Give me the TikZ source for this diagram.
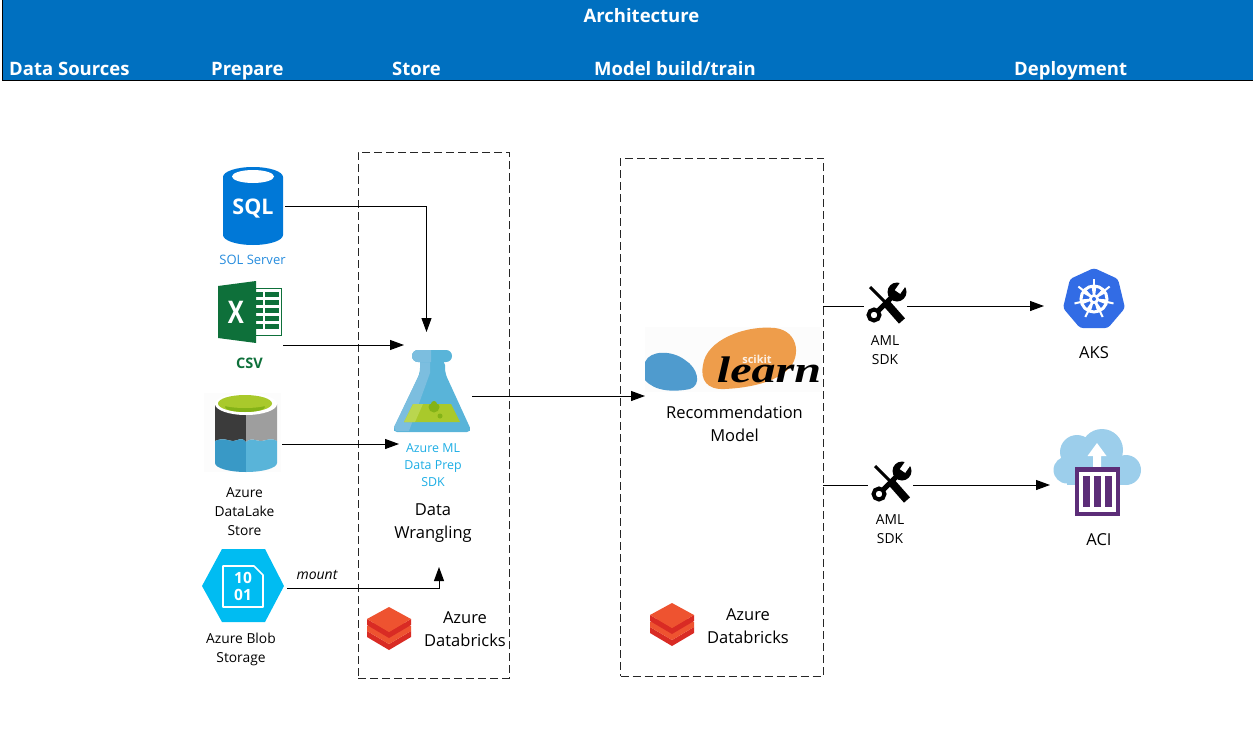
\documentclass[tikz,border=0pt]{standalone}
\usepackage{fontspec}
\setmainfont{Open Sans}
\newfontfamily\learnfont{Liberation Serif}
\usetikzlibrary{arrows.meta,calc}
\definecolor{banner}{HTML}{0070C0}
\definecolor{sqlblue}{HTML}{0078D7}
\definecolor{xlgreen}{HTML}{0E703A}
\definecolor{sdkblue}{HTML}{1CADE4}
\definecolor{blobcyan}{HTML}{00BCF2}
\definecolor{flaskA}{HTML}{59B4D9}
\definecolor{flaskB}{HTML}{7CBEDF}
\definecolor{lakeA}{HTML}{3999C6}
\definecolor{liqA}{HTML}{A9C92B}
\definecolor{liqB}{HTML}{BAD64F}
\definecolor{liqC}{HTML}{84B317}
\definecolor{brickA}{HTML}{EE5330}
\definecolor{brickB}{HTML}{D92B24}
\definecolor{skorange}{HTML}{EE9D4B}
\definecolor{skblue}{HTML}{4F9BCE}
\definecolor{k8s}{HTML}{326CE5}
\definecolor{cloud}{HTML}{9CCEEB}
\definecolor{aci}{HTML}{5C2D78}
\tikzset{
  x=1pt,y=-1pt,
  head/.style={font=\fontsize{18.5}{22}\selectfont\bfseries,text=white,inner sep=0pt,anchor=base west},
  lab/.style={font=\fontsize{13.8}{19}\selectfont,align=center,inner sep=0pt,text=black},
  biglab/.style={font=\fontsize{16.5}{23}\selectfont,align=center,inner sep=0pt,text=black},
  sdk/.style={font=\fontsize{12.4}{17}\selectfont,align=center,inner sep=0pt,text=sdkblue},
  flow/.style={line width=1pt,black,-{Triangle[length=14pt,width=10pt]}},
  plainflow/.style={line width=1pt,black},
  dashbox/.style={draw=black!85,line width=1pt,dash pattern=on 8pt off 4pt},
}
\newcommand{\brickstack}[2]{%
  \begin{scope}[shift={(#1,#2)}]
    \fill[brickB] (-22,24) -- (0,37) -- (22,24) -- (22,30) -- (0,43) -- (-22,30) -- cycle;
    \fill[brickA] (-22,19) -- (0,8) -- (22,19) -- (22,24) -- (0,37) -- (-22,24) -- cycle;
    \fill[brickB] (-22,12) -- (0,25) -- (22,12) -- (22,18) -- (0,31) -- (-22,18) -- cycle;
    \fill[brickA] (-22,12) -- (0,0) -- (22,12) -- (0,25) -- cycle;
  \end{scope}}
\newcommand{\toolicon}[2]{%
  \begin{scope}[shift={(#1,#2)}]
    \draw[line width=3pt,black] (-17,-17) -- (0,0);
    \draw[line width=8pt,black] (0,0) -- (15,17);
    \draw[line width=5pt,black] (-13,11) -- (10,-12);
    \draw[line width=4pt,black,fill=white] (-13,11) circle (5.5);
    \fill[black] (10,-12) circle (9.5);
    \draw[line width=6.5pt,white] (10.5,-12) -- (21,-27);
  \end{scope}}
\begin{document}
\begin{tikzpicture}
\useasboundingbox (0,0) rectangle (1253,747);
% banner
\fill[banner] (2,0) rectangle (1253,80);
\draw[line width=1.2pt,black] (2.5,0) -- (2.5,80.5) -- (1253,80.5);
\node[head,anchor=center] (title) at (641.5,15.5) {Architecture};
\node[head] (h1) at (9,75) {Data Sources};
\node[head] (h2) at (211,75) {Prepare};
\node[head] (h3) at (392,75) {Store};
\node[head] (h4) at (594,75) {Model build/train};
\node[head] (h5) at (1014,75) {Deployment};
% dashed boxes
\node[dashbox,minimum width=151pt,minimum height=526pt,inner sep=0pt] (boxA) at (433.5,415) {};
\node[dashbox,minimum width=203pt,minimum height=518pt,inner sep=0pt] (boxB) at (722,417) {};
% SQL icon
\fill[sqlblue] (223,177) arc[start angle=180,end angle=360,x radius=30,y radius=10] -- (283,235) arc[start angle=0,end angle=180,x radius=30,y radius=10] -- cycle;
\fill[white] (253,176.5) ellipse[x radius=21,y radius=6.5];
\node[font=\fontsize{21.5}{22}\selectfont\bfseries,text=white,inner sep=0pt] (sqlt) at (253,209) {SQL};
\node[font=\fontsize{13}{15}\selectfont,text=sqlblue!85!white,inner sep=0pt] (sqll) at (252.5,259.5) {SOL Server};
% Excel
\fill[white,draw=xlgreen,line width=1pt] (255,288.5) rectangle (281,335);
\foreach \yy in {292,300,308,316,324}{
  \fill[xlgreen] (256,\yy) rectangle (263,\yy+4.5);
  \fill[xlgreen] (264.5,\yy) rectangle (279,\yy+4.5);
}
\fill[xlgreen] (218,286) -- (256,281) -- (256,343) -- (218,338) -- cycle;
\node[font=\fontsize{24}{24}\selectfont\bfseries,text=white,inner sep=0pt,yscale=1.3] (xlx) at (236,312) {X};
\node[font=\fontsize{14.5}{15}\selectfont\bfseries,text=xlgreen,inner sep=0pt] (csv) at (249.5,363) {CSV};
% Data lake
\fill[black!1] (204,393) rectangle (281,472);
\fill[black!77!white] (215,404) -- (246,404) -- (246,442) .. controls (241,436) and (238,441) .. (233,441) .. controls (228,441) and (224,437) .. (215,441) -- cycle;
\fill[black!38!white] (246,404) -- (277,404) -- (277,441) .. controls (270,437) and (266,441) .. (261,441) .. controls (255,441) and (252,437) .. (246,442) -- cycle;
\fill[white] (246,404) ellipse[x radius=31,y radius=11];
\fill[liqA] (245,403.5) ellipse[x radius=27,y radius=8.5];
\fill[liqC] (245,407) ellipse[x radius=20,y radius=5];
\fill[liqA] (245,403) ellipse[x radius=25,y radius=5];
\fill[lakeA] (215,441) .. controls (224,437) and (228,441) .. (233,441) .. controls (238,441) and (241,436) .. (246,442) -- (246,472) arc[start angle=90,end angle=180,x radius=31,y radius=9] -- cycle;
\fill[flaskA] (277,441) .. controls (270,437) and (266,441) .. (261,441) .. controls (255,441) and (252,437) .. (246,442) -- (246,472) arc[start angle=90,end angle=0,x radius=31,y radius=9] -- cycle;
\node[lab] (lakel) at (244.5,511.5) {Azure\\DataLake\\Store};
% Blob
\fill[blobcyan] (202,586) -- (222,549) -- (265,549) -- (284,586) -- (265,622) -- (222,622) -- cycle;
\draw[white,line width=1.7pt,line join=round] (223,566) -- (254,566) -- (263,575) -- (263,607) -- (223,607) -- cycle;
\node[font=\fontsize{15.5}{17}\selectfont\bfseries,text=white,align=center,inner sep=0pt] (blobt) at (243,586.5) {10\\01};
\node[lab] (blobl) at (241,649) {Azure Blob\\Storage};
% Flask
\fill[flaskA,rounded corners=5pt] (420,360) -- (445,360) -- (445,373) -- (472,432) -- (392,432) -- (420,373) -- cycle;
\fill[flaskB] (425,355) -- (430,355) -- (430,373) -- (409,431) -- (396,431) -- (394,427) -- (420,373) -- (420,355) -- cycle;
\fill[flaskA,rounded corners=5.9pt] (412,350) rectangle (452,362);
\begin{scope}
  \clip (412,345) rectangle (431,365);
  \fill[flaskB,rounded corners=5.9pt] (412,350) rectangle (452,362);
\end{scope}
\fill[liqA] (413,404) -- (451,404) -- (460,422) -- (404,422) -- cycle;
\fill[liqB] (413,404) -- (423,404) -- (415,422) -- (404,422) -- cycle;
\begin{scope}
  \clip (413,404) -- (451,404) -- (460,422) -- (404,422) -- cycle;
  \fill[liqC] (434,407) circle (5.5);
\end{scope}
\fill[liqC] (434,404) circle (3);
\fill[liqC] (440,416) circle (2.5);
\node[sdk] (sdkl) at (433,465) {Azure ML\\Data Prep\\SDK};
\node[biglab] (wrangle) at (433,523) {Data\\Wrangling};
\brickstack{389}{607}
\node[biglab] (dbA) at (465,629) {Azure\\Databricks};
% scikit learn
\fill[black!1] (645,327) rectangle (822,392);
\fill[skblue] (645,362) .. controls (650,350) and (672,350) .. (685,360) .. controls (698,368) and (702,385) .. (690,389) .. controls (675,392) and (655,392) .. (645,380) -- cycle;
\fill[skorange] (703,365) .. controls (706,340) and (745,325) .. (775,328) .. controls (800,331) and (802,360) .. (785,372) .. controls (770,384) and (745,388) .. (725,389) .. controls (707,390) and (700,380) .. (703,365) -- cycle;
\node[font=\fontsize{11}{11}\selectfont\bfseries,text=white!85!skorange,inner sep=0pt] (scikit) at (757,359) {scikit};
\node[font=\learnfont\fontsize{37}{37}\selectfont\bfseries\itshape,text=black,inner sep=0pt,xscale=1.3] (learn) at (769,370) {learn};
\node[biglab] (recl) at (734.5,424) {Recommendation\\Model};
\brickstack{672}{603}
\node[biglab] (dbB) at (748,626) {Azure\\Databricks};
% tools
\toolicon{887}{304}
\toolicon{892}{483}
\node[lab] (sdkA) at (885,350) {AML\\SDK};
\node[lab] (sdkB) at (890,529) {AML\\SDK};
% AKS
\fill[k8s,rounded corners=3pt] (1094,268) -- (1118,279) -- (1125,308) -- (1108,328) -- (1080,328) -- (1063,308) -- (1070,279) -- cycle;
\begin{scope}[shift={(1094,299)}]
  \draw[white,line width=3pt] (0,0) circle (13);
  \foreach \a in {0,51.43,...,360}{
    \draw[white,line width=2pt,rotate=\a] (0,-11) -- (0,-20);
    \fill[white,rotate=\a] (-1,-3) -- (1,-3) -- (2.5,-13) -- (-2.5,-13) -- cycle;
  }
  \fill[white] (0,0) circle (5);
  \fill[k8s] (0,0) circle (2);
\end{scope}
\node[font=\fontsize{16.5}{18}\selectfont,inner sep=0pt] (aksl) at (1094,353) {AKS};
% ACI
\fill[cloud] (1067,470) circle (13.5);
\fill[cloud] (1077,452) circle (17);
\fill[cloud] (1102,450) circle (21);
\fill[cloud] (1126,470) circle (15);
\fill[cloud] (1067,465) rectangle (1126,485);
\fill[white] (1097,443) -- (1106.5,456) -- (1101,456) -- (1101,467) -- (1093,467) -- (1093,456) -- (1087.5,456) -- cycle;
\fill[aci] (1075,467) rectangle (1120,516);
\fill[white] (1079,472) rectangle (1116,512);
\fill[aci] (1083,476) rectangle (1090,507);
\fill[aci] (1094,476) rectangle (1101,507);
\fill[aci] (1104.5,476) rectangle (1111.5,507);
\node[font=\fontsize{16.5}{18}\selectfont,inner sep=0pt] (acil) at (1099,540) {ACI};
% connector anchors
\coordinate (sqlOut) at (285,206);
\coordinate (sqlIn) at (426.5,332);
\coordinate (csvOut) at (283,345);
\coordinate (csvIn) at (404,345);
\coordinate (lakeOut) at (282,444);
\coordinate (lakeIn) at (399,444);
\coordinate (blobOut) at (287,588);
\coordinate (blobIn) at (439,567);
\coordinate (flaskOut) at (472,396);
\coordinate (skIn) at (645,396);
\coordinate (boxOutA) at (823,306);
\coordinate (toolInA) at (864,306);
\coordinate (toolOutA) at (907,306);
\coordinate (aksIn) at (1044,306);
\coordinate (boxOutB) at (823,485);
\coordinate (toolInB) at (868,485);
\coordinate (toolOutB) at (913,485);
\coordinate (aciIn) at (1050,485);
% connectors
\draw[flow] (sqlOut) -| (sqlIn);
\draw[flow] (csvOut) -- (csvIn);
\draw[flow] (lakeOut) -- (lakeIn);
\draw[flow] (blobOut) -| (blobIn);
\draw[flow] (flaskOut) -- (skIn);
\draw[plainflow] (boxOutA) -- (toolInA);
\draw[flow] (toolOutA) -- (aksIn);
\draw[plainflow] (boxOutB) -- (toolInB);
\draw[flow] (toolOutB) -- (aciIn);
\node[font=\fontsize{14}{16}\selectfont\itshape,inner sep=0pt,text=black] (mountl) at (317,574.5) {mount};
\end{tikzpicture}
\end{document}
